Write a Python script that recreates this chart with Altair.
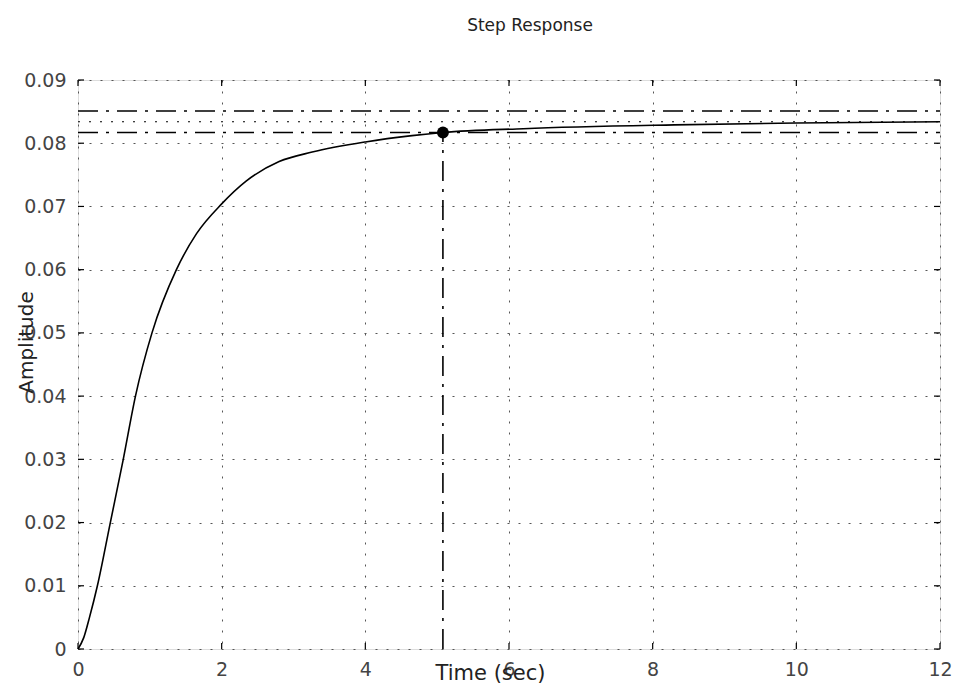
import altair as alt
import pandas as pd

# ---- data ----
time_s = [0, 0.08, 0.16, 0.27, 0.45, 0.63, 0.8, 1.03, 1.37, 1.65, 2.0, 2.34,
          2.8, 3.26, 4.0, 4.65, 5.08, 6.2, 8.3, 10.0, 12.0]
amplitude = [0, 0.0018, 0.005, 0.01, 0.02, 0.03, 0.04, 0.05, 0.06, 0.0657,
             0.0704, 0.0740, 0.0771, 0.0786, 0.0802, 0.0812, 0.0817, 0.0823,
             0.0829, 0.0832, 0.0834]

final_value = 0.0834
band_levels = [0.0851, 0.0817]
settling_time = 5.08
settling_value = 0.0817

x_ticks = [0, 2, 4, 6, 8, 10, 12]
y_ticks = [0, 0.01, 0.02, 0.03, 0.04, 0.05, 0.06, 0.07, 0.08, 0.09]

chart_title = "Step Response"

W, H = 862, 569
FONT = "DejaVu Sans"

curve_df = pd.DataFrame({"t": time_s, "y": amplitude})
band_df = pd.DataFrame({"y": band_levels})
final_df = pd.DataFrame({"y": [final_value]})
settle_df = pd.DataFrame({"t": [settling_time], "y": [settling_value], "y0": [0.0]})
xt_df = pd.DataFrame({"t": x_ticks})
yt_df = pd.DataFrame({"y": y_ticks})
title_df = pd.DataFrame({"label": [chart_title]})

xscale = alt.Scale(domain=[0, 12], nice=False, zero=False)
yscale = alt.Scale(domain=[0, 0.09], nice=False, zero=False)

x_axis = alt.Axis(
    values=x_ticks, format="d", title="Time (sec)", grid=True, gridDash=[2, 9],
    gridColor="#555", gridWidth=1, tickSize=0, labelPadding=11, labelFlush=False,
    labelFont=FONT, labelFontSize=19, labelColor="#444", domain=False,
    titleFont=FONT, titleFontSize=21, titleFontWeight="normal", titleColor="#222",
    titleX=412, titleY=24, titleBaseline="middle", titleAnchor="start", titleAlign="center",
)
y_axis = alt.Axis(
    values=y_ticks, format=".2~f", title="Amplitude", grid=True, gridDash=[2, 9],
    gridColor="#555", gridWidth=1, tickSize=0, labelPadding=12, labelFlush=False,
    labelFont=FONT, labelFontSize=19, labelColor="#444", domain=False,
    titleFont=FONT, titleFontSize=20, titleFontWeight="normal", titleColor="#222",
    titleX=-52, titleY=262, titleBaseline="middle", titleAlign="center", titleAngle=-90,
)

base_axes = alt.Chart(curve_df).mark_line(opacity=0).encode(
    x=alt.X("t:Q", scale=xscale, axis=x_axis),
    y=alt.Y("y:Q", scale=yscale, axis=y_axis),
)

curve = alt.Chart(curve_df).mark_line(
    color="black", strokeWidth=1.6, interpolate="monotone"
).encode(x=alt.X("t:Q", scale=xscale), y=alt.Y("y:Q", scale=yscale))

bands = alt.Chart(band_df).mark_rule(
    color="black", strokeWidth=1.4, strokeDash=[20, 8, 3, 8]
).encode(y=alt.Y("y:Q", scale=yscale), x=alt.value(0), x2=alt.value(W))

final_line = alt.Chart(final_df).mark_rule(
    color="black", strokeWidth=1.2, strokeDash=[2, 9]
).encode(y=alt.Y("y:Q", scale=yscale), x=alt.value(0), x2=alt.value(W))

settle_rule = alt.Chart(settle_df).mark_rule(
    color="black", strokeWidth=1.6, strokeDash=[20, 8, 3, 8]
).encode(
    x=alt.X("t:Q", scale=xscale),
    y=alt.Y("y0:Q", scale=yscale),
    y2="y:Q",
)

settle_dot = alt.Chart(settle_df).mark_circle(
    color="black", size=140, opacity=1
).encode(x=alt.X("t:Q", scale=xscale), y=alt.Y("y:Q", scale=yscale))

# inward ticks on all four sides
tick_style = dict(color="black", strokeWidth=1.2)
xt_bottom = alt.Chart(xt_df).mark_rule(**tick_style).encode(
    x=alt.X("t:Q", scale=xscale), y=alt.value(H), y2=alt.value(H - 6))
xt_top = alt.Chart(xt_df).mark_rule(**tick_style).encode(
    x=alt.X("t:Q", scale=xscale), y=alt.value(0), y2=alt.value(6))
yt_left = alt.Chart(yt_df).mark_rule(**tick_style).encode(
    y=alt.Y("y:Q", scale=yscale), x=alt.value(0), x2=alt.value(6))
yt_right = alt.Chart(yt_df).mark_rule(**tick_style).encode(
    y=alt.Y("y:Q", scale=yscale), x=alt.value(W), x2=alt.value(W - 6))

title_text = alt.Chart(title_df).mark_text(
    font=FONT, fontSize=17, color="#222", align="center", baseline="alphabetic"
).encode(text="label:N", x=alt.value(452), y=alt.value(-49))

chart = alt.layer(
    base_axes, final_line, bands, settle_rule, curve, settle_dot,
    xt_bottom, xt_top, yt_left, yt_right, title_text,
).properties(
    width=W, height=H,
    autosize=alt.AutoSizeParams(type="none"),
    padding={"left": 70, "top": 72, "right": 12, "bottom": 36},
).configure_view(
    stroke="black", strokeWidth=1.5
).configure(background="white")

chart.save("out.html", embed_options={"renderer": "svg", "actions": False})
